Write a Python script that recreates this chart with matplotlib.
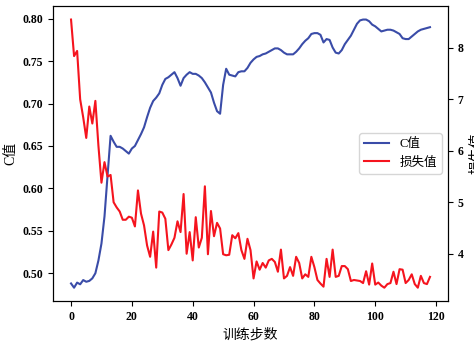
import matplotlib
matplotlib.use("Agg")
import matplotlib.pyplot as plt

steps = list(range(119))

c_values = [
    0.488, 0.483, 0.489, 0.487, 0.492, 0.490, 0.491, 0.494, 0.500, 0.515,
    0.535, 0.567, 0.615, 0.662, 0.655, 0.649, 0.649, 0.647, 0.644, 0.641,
    0.647, 0.650, 0.657, 0.664, 0.672, 0.684, 0.695, 0.703, 0.707, 0.712,
    0.722, 0.729, 0.731, 0.734, 0.737, 0.730, 0.721, 0.730, 0.734, 0.737,
    0.735, 0.735, 0.733, 0.730, 0.725, 0.719, 0.713, 0.701, 0.691, 0.688,
    0.722, 0.741, 0.734, 0.733, 0.732, 0.737, 0.738, 0.738, 0.742, 0.748,
    0.752, 0.755, 0.756, 0.758, 0.759, 0.761, 0.763, 0.765, 0.765, 0.763,
    0.760, 0.758, 0.758, 0.758, 0.761, 0.765, 0.770, 0.774, 0.777, 0.782,
    0.783, 0.783, 0.781, 0.772, 0.776, 0.775, 0.766, 0.760, 0.759, 0.763,
    0.770, 0.775, 0.780, 0.787, 0.794, 0.798, 0.799, 0.799, 0.797, 0.793,
    0.791, 0.788, 0.785, 0.786, 0.787, 0.787, 0.786, 0.784, 0.782, 0.777,
    0.776, 0.776, 0.779, 0.782, 0.785, 0.787, 0.788, 0.789, 0.790,
]

loss_values = [
    8.55, 7.84, 7.94, 7.00, 6.65, 6.25, 6.86, 6.53, 6.97, 6.10,
    5.38, 5.78, 5.50, 5.53, 5.00, 4.90, 4.82, 4.66, 4.66, 4.72,
    4.70, 4.53, 5.23, 4.78, 4.55, 4.16, 3.94, 4.43, 3.73, 4.82,
    4.80, 4.68, 4.07, 4.18, 4.31, 4.63, 4.42, 5.16, 4.00, 4.42,
    3.87, 4.71, 4.12, 4.31, 5.31, 3.99, 4.83, 4.34, 4.60, 4.49,
    3.99, 3.97, 3.98, 4.36, 4.30, 4.40, 4.07, 3.90, 4.29, 4.07,
    3.52, 3.85, 3.69, 3.82, 3.73, 3.87, 3.90, 3.84, 3.65, 4.08,
    3.52, 3.57, 3.74, 3.57, 3.94, 3.82, 3.52, 3.60, 3.55, 3.94,
    3.74, 3.49, 3.42, 3.36, 3.90, 3.55, 4.08, 3.55, 3.57, 3.76,
    3.76, 3.70, 3.47, 3.49, 3.48, 3.47, 3.43, 3.66, 3.40, 3.81,
    3.40, 3.44, 3.38, 3.34, 3.41, 3.43, 3.65, 3.41, 3.70, 3.69,
    3.43, 3.49, 3.60, 3.41, 3.34, 3.57, 3.43, 3.41, 3.55,
]

cjk = ['Liberation Serif', 'Noto Sans CJK SC']

fig, ax1 = plt.subplots(figsize=(4.74, 3.41), dpi=100)
fig.subplots_adjust(left=0.112, right=0.945, top=0.982, bottom=0.117)
ax2 = ax1.twinx()

l1, = ax1.plot(steps, c_values, color='#3a4ca8', lw=1.5, label='C值')
l2, = ax2.plot(steps, loss_values, color='#f5141e', lw=1.5, label='损失值')

ax1.set_xlabel('训练步数', family=cjk, fontsize=10)
ax1.set_ylabel('C值', family=cjk, fontsize=10)
ax2.set_ylabel('损失值', family=cjk, fontsize=10)

for ax in (ax1, ax2):
    for lab in ax.get_xticklabels() + ax.get_yticklabels():
        lab.set_family('Liberation Serif')
        lab.set_fontweight('bold')
        lab.set_fontsize(8.5)

ax1.legend([l1, l2], ['C值', '损失值'], loc='center right',
           prop={'family': cjk, 'size': 9})

fig.savefig('out.png', dpi=100)
